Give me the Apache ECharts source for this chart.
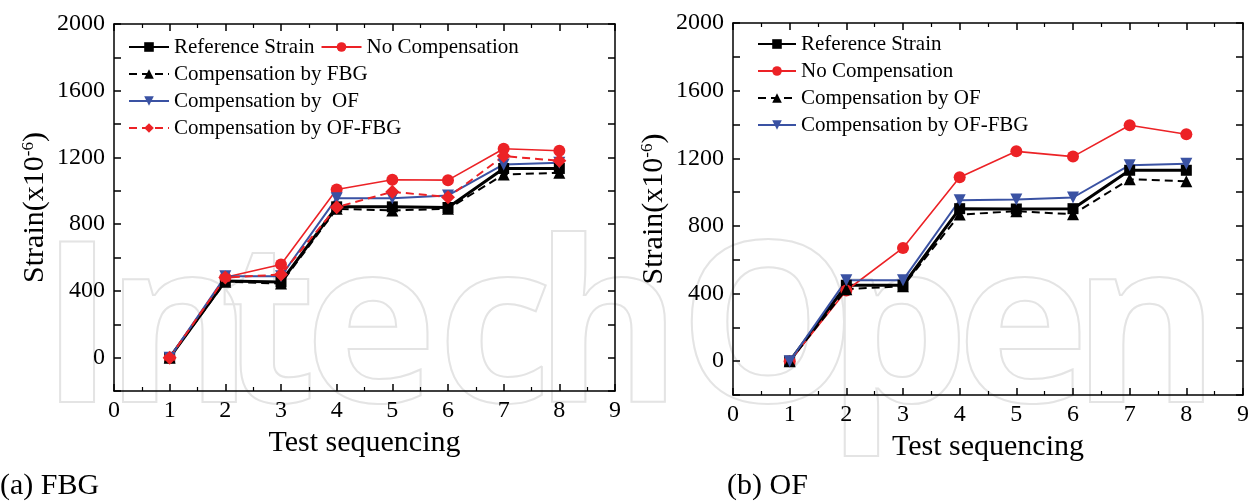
<!DOCTYPE html>
<html><head><meta charset="utf-8">
<script src="https://cdn.jsdelivr.net/npm/echarts@6/dist/echarts.min.js"></script>
<style>html,body{margin:0;padding:0;background:#fff}#c{width:1255px;height:502px}</style>
</head><body><div id="c"></div>
<script>
// ---- data ----
const seq = [1, 2, 3, 4, 5, 6, 7, 8];
// (a) FBG
const fbgReference = [0, 460, 454, 904, 904, 900, 1134, 1134];
const fbgNoComp    = [0, 482, 558, 1008, 1066, 1064, 1252, 1240];
const fbgByFBG     = [0, 455, 444, 892, 882, 892, 1098, 1108];
const fbgByOF      = [0, 488, 488, 956, 956, 972, 1158, 1168];
const fbgByOFFBG   = [0, 480, 498, 902, 994, 962, 1208, 1180];
// (b) OF
const ofReference  = [0, 449, 449, 902, 900, 902, 1129, 1129];
const ofNoComp     = [0, 418, 670, 1088, 1241, 1210, 1395, 1342];
const ofByOF       = [0, 426, 443, 867, 887, 869, 1076, 1064];
const ofByOFFBG    = [0, 479, 479, 952, 956, 968, 1159, 1168];
// labels
const xName = 'Test sequencing';
const yName = 'Strain(x10{sup|-6})';
const legendA1 = ['Reference Strain', 'No Compensation'];
const legendA2 = ['Compensation by FBG', 'Compensation by  OF', 'Compensation by OF-FBG'];
const legendB  = ['Reference Strain', 'No Compensation', 'Compensation by OF', 'Compensation by OF-FBG '];
const captions = ['(a) FBG', '(b) OF'];
const watermarkLetters = ['I', 'n', 't', 'e', 'c', 'h', 'O', 'p', 'e', 'n'];
const watermarkCenters = [77, 179, 268, 371, 495, 608, 768, 898, 1023, 1146];

const FONT = '"Liberation Serif", "Times New Roman", serif';
const RED = '#ec2226';
const BLUE = '#3a52a3';
const BLACK = '#000';

const chart = echarts.init(document.getElementById('c'), null, {renderer: 'canvas'});
const pair = arr => seq.map((x, i) => [x, arr[i]]);

const grids = [
  {left: 114, top: 24, width: 501, height: 367},
  {left: 733, top: 23, width: 510, height: 372}
];

function xAxes(g) {
  const base = {
    gridIndex: g, type: 'value', min: 0, max: 9, interval: 1,
    axisLine: {show: true, onZero: false, lineStyle: {color: BLACK, width: 1.5}},
    axisTick: {show: true, inside: true, length: 7, lineStyle: {color: BLACK, width: 1.5}},
    minorTick: {show: true, splitNumber: 2, length: 4, lineStyle: {color: BLACK, width: 1.2}},
    splitLine: {show: false}, minorSplitLine: {show: false}
  };
  return [
    Object.assign({}, base, {
      position: 'bottom',
      axisLabel: {margin: 8, fontSize: 24, fontFamily: FONT, color: BLACK},
      name: xName, nameLocation: 'middle', nameGap: 34,
      nameTextStyle: {fontSize: 30, fontFamily: FONT, color: BLACK}
    }),
    Object.assign({}, base, {position: 'top', axisLabel: {show: false}})
  ];
}
function yAxes(g) {
  const base = {
    gridIndex: g, type: 'value', min: -200, max: 2000, interval: 200,
    axisLine: {show: true, onZero: false, lineStyle: {color: BLACK, width: 1.5}},
    axisTick: {show: true, inside: true, length: 7, lineStyle: {color: BLACK, width: 1.5}},
    splitLine: {show: false}
  };
  return [
    Object.assign({}, base, {
      position: 'left',
      axisLabel: {margin: 9, fontSize: 24, fontFamily: FONT, color: BLACK,
        formatter: v => (v >= 0 && v % 400 === 0) ? String(v) : ''},
      name: yName, nameLocation: 'middle', nameGap: 64,
      nameTextStyle: {fontSize: 30, fontFamily: FONT, color: BLACK,
        rich: {sup: {fontSize: 17, fontFamily: FONT, color: BLACK, verticalAlign: 'top'}}}
    }),
    Object.assign({}, base, {position: 'right', axisLabel: {show: false}})
  ];
}

function ser(name, data, g, opt) {
  return Object.assign({
    name: name, type: 'line', data: pair(data),
    xAxisIndex: g * 2, yAxisIndex: g * 2,
    symbolSize: 12, smooth: false, animation: false
  }, opt);
}
const sRef = {symbol: 'rect', symbolSize: 11, lineStyle: {color: BLACK, width: 3}, itemStyle: {color: BLACK}};
const sNo  = {symbol: 'circle', symbolSize: 12, lineStyle: {color: RED, width: 1.6}, itemStyle: {color: RED}};
const sTriBlack = {symbol: 'triangle', symbolSize: 12, lineStyle: {color: BLACK, width: 2, type: [8, 5]}, itemStyle: {color: BLACK}};
const sTriBlue = {symbol: 'triangle', symbolRotate: 180, symbolSize: 12, lineStyle: {color: BLUE, width: 2}, itemStyle: {color: BLUE}};
const sDiaRed = {symbol: 'diamond', symbolSize: 14, lineStyle: {color: RED, width: 2, type: [8, 5]}, itemStyle: {color: RED}};

const legendText = {fontSize: 21, lineHeight: 22, fontFamily: FONT, color: BLACK};

const watermark = watermarkLetters.map((ch, i) => ({
  type: 'text', z: -10, silent: true, x: watermarkCenters[i], y: 338,
  style: {text: ch, font: 'bold 224px "Open Sans", sans-serif', align: 'center', verticalAlign: 'middle',
    fill: 'rgba(255,255,255,0)', stroke: '#e4e4e4', lineWidth: 2}
}));

const option = {
  backgroundColor: '#fff',
  animation: false,
  grid: grids.map(g => Object.assign({containLabel: false, outerBoundsMode: 'none'}, g)),
  xAxis: [].concat(xAxes(0), xAxes(1)),
  yAxis: [].concat(yAxes(0), yAxes(1)),
  legend: [
    {left: 123, top: 31, padding: 5, orient: 'horizontal', itemGap: 6, itemWidth: 40, itemHeight: 12,
     data: legendA1, textStyle: legendText, selectedMode: false},
    {left: 123, top: 58, padding: 5, orient: 'vertical', itemGap: 5, itemWidth: 40, itemHeight: 12,
     data: legendA2, textStyle: legendText, selectedMode: false},
    {left: 752, top: 28, padding: 5, orient: 'vertical', itemGap: 5, itemWidth: 38, itemHeight: 12,
     data: legendB, textStyle: legendText, selectedMode: false}
  ],
  graphic: watermark.concat([
    {type: 'text', left: 0, top: 471,
     style: {text: captions[0], font: '30px ' + FONT, fill: BLACK}},
    {type: 'text', left: 727, top: 471,
     style: {text: captions[1], font: '30px ' + FONT, fill: BLACK}}
  ]),
  series: [
    ser('Reference Strain', fbgReference, 0, sRef),
    ser('No Compensation', fbgNoComp, 0, sNo),
    ser('Compensation by FBG', fbgByFBG, 0, sTriBlack),
    ser('Compensation by  OF', fbgByOF, 0, sTriBlue),
    ser('Compensation by OF-FBG', fbgByOFFBG, 0, sDiaRed),
    ser('Reference Strain', ofReference, 1, sRef),
    ser('No Compensation', ofNoComp, 1, sNo),
    ser('Compensation by OF', ofByOF, 1, sTriBlack),
    ser('Compensation by OF-FBG ', ofByOFFBG, 1, sTriBlue)
  ]
};
chart.setOption(option);
</script>
</body></html>
